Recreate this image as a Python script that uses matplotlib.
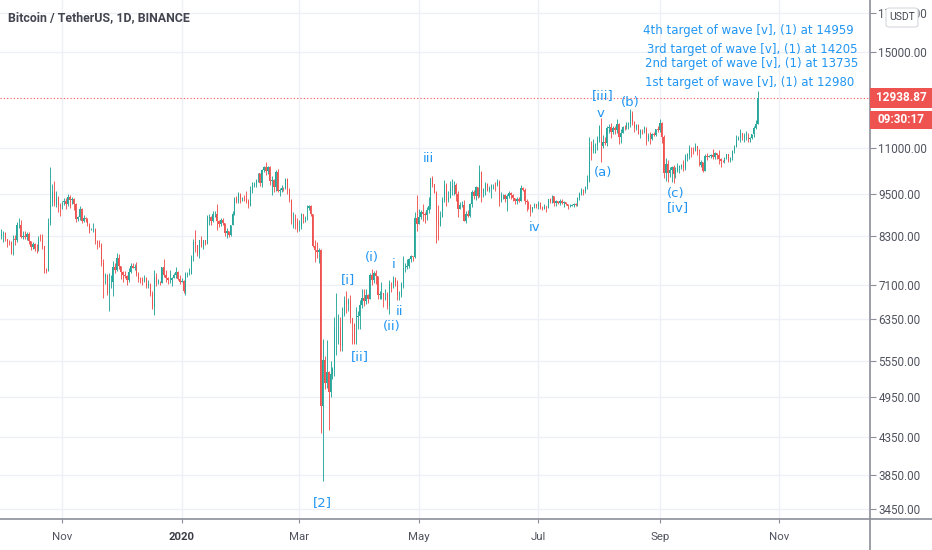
import numpy as np
import datetime as dt
import matplotlib
matplotlib.use("Agg")
import matplotlib.pyplot as plt
import matplotlib.dates as mdates
from matplotlib.patches import Rectangle, FancyBboxPatch
from matplotlib.lines import Line2D

# ---------------- data (BTC/USDT daily, Binance) ----------------
START_DATE = "2019-10-01"
FIRST_OPEN = 8290

close_oct19 = [8340,8380,8230,8150,8140,7860,8210,8190,8590,8590,8260,8300,8280,8360,8160,8000,8090,7960,7950,8230,8210,8030,7470,7420,8660,9250,9550,9210,9420,9160,9150]
high_oct19 = [8490,8420,8400,8230,8200,8170,8320,8330,8670,8780,8750,8420,8430,8400,8400,8170,8130,8120,8090,8300,8340,8340,8040,7480,8800,10370,9800,9900,9580,9430,9240]
low_oct19 = [8210,8150,8170,8010,8060,7830,7800,8060,8140,8520,8250,8230,8210,8200,8090,7930,7960,7900,7850,7920,8160,7960,7370,7360,7420,8600,9130,9140,9120,8970,8850]

close_nov19 = [9250,9300,9200,9400,9320,9340,9200,8770,8810,9040,8720,8800,8760,8630,8460,8490,8500,8170,8120,8080,7610,7280,7330,6900,7120,7160,7520,7430,7740,7540]
high_nov19 = [9290,9380,9380,9500,9480,9400,9370,9220,8860,9130,9070,8890,8830,8800,8660,8520,8650,8520,8190,8180,8110,7700,7360,7350,7370,7320,7650,7620,7860,7840]
low_nov19 = [9060,9170,9060,9150,9080,9200,9030,8690,8700,8750,8660,8670,8680,8560,8390,8450,8400,8090,7950,8000,7540,6790,7120,6870,6520,7020,6850,7360,7410,7470]

close_dec19 = [7400,7310,7300,7200,7390,7530,7500,7520,7340,7220,7200,7190,7250,7070,7110,6880,6610,7280,7150,7190,7140,7510,7320,7250,7200,7200,7250,7310,7390,7220,7170]
high_dec19 = [7540,7420,7410,7320,7480,7600,7620,7580,7640,7400,7270,7270,7310,7280,7210,7140,6950,7440,7380,7220,7190,7520,7700,7440,7270,7440,7270,7360,7520,7420,7320]
low_dec19 = [7220,7160,7250,7080,7150,7380,7480,7450,7290,7170,7130,7100,7150,7030,7030,6850,6560,6430,7070,7120,7100,7130,7270,7150,7120,7140,7070,7280,7260,7200,7120]

close_jan20 = [7180,6950,7340,7350,7350,7760,8150,8050,7820,8190,8020,8180,8110,8810,8820,8720,8900,8910,8700,8630,8730,8660,8390,8430,8330,8600,8900,9390,9290,9500,9350]
high_jan20 = [7250,7210,7400,7390,7490,7800,8210,8460,8060,8200,8290,8190,8200,8880,8900,8850,9000,9000,9200,8750,8790,8800,8660,8520,8440,8610,8990,9420,9440,9570,9530]
low_jan20 = [7150,6920,6870,7280,7330,7350,7650,7880,7780,7730,8000,7960,8060,8080,8600,8600,8670,8820,8470,8530,8580,8600,8300,8240,8270,8300,8590,8880,9230,9220,9230]

close_feb20 = [9380,9340,9290,9180,9620,9760,9800,9900,10160,9850,10270,10350,10240,10360,9900,9930,9700,10180,9600,9610,9690,9670,9970,9660,9310,8790,8790,8690,8530]
high_feb20 = [9400,9470,9600,9340,9730,9860,9870,9950,10160,10140,10300,10400,10520,10390,10380,10050,9980,10250,10300,9690,9760,9700,10000,9990,9670,9340,8960,8900,8800]
low_feb20 = [9300,9280,9230,9080,9150,9530,9720,9700,9860,9730,9700,10200,10080,10140,9760,9460,9550,9590,9550,9440,9560,9580,9640,9500,9260,8620,8520,8500,8410]

close_mar20 = [8530,8920,8760,8760,9070,9150,8900,8030,7930,7890,7940,4800,5580,5170,5360,5030,5330,5410,6190,6190,6190,5830,6470,6740,6680,6740,6370,6250,5880,6400,6410]
high_mar20 = [8750,8940,8900,8840,9170,9170,9180,8900,8180,8150,7990,7960,5970,5650,5950,5380,5550,5450,6390,6900,6460,6400,6600,6840,6960,6790,6860,6370,6270,6600,6530]
low_mar20 = [8420,8490,8660,8670,8740,9010,8850,8000,7630,7740,7600,4410,3780,5080,5100,4450,4950,5250,5290,5670,5860,5740,5730,6420,6480,6530,6270,5860,5870,5860,6150]

close_apr20 = [6640,6800,6740,6870,6780,7330,7200,7370,7300,6860,6890,6910,6860,6860,6620,7120,7100,7260,7130,6840,6850,7140,7480,7510,7540,7700,7780,7760,8780,8620]
high_apr20 = [6750,7000,7000,6990,6880,7360,7460,7420,7430,7300,6950,7170,6910,6990,6930,7200,7150,7300,7270,7210,6950,7160,7770,7620,7700,7730,7800,7790,8950,9460]
low_apr20 = [6160,6590,6630,6680,6690,6770,7100,7130,7120,6770,6780,6780,6600,6760,6560,6460,6930,7030,7060,6750,6750,6820,7020,7400,7460,7500,7640,7660,7740,8420]

close_may20 = [8830,8970,8900,8880,9030,9150,9990,9800,9540,8720,8560,8810,9310,9790,9310,9380,9680,9730,9780,9510,9060,9170,9180,8720,8900,8840,9200,9570,9430,9700,9450]
high_may20 = [9060,9020,9190,8960,9100,9400,9990,10050,9800,9580,9170,8980,9400,9930,9840,9580,9890,9950,9900,9840,9580,9270,9300,9310,8980,9020,9220,9620,9610,9740,9710]
low_may20 = [8620,8760,8700,8650,8740,8940,9050,9700,9520,8120,8200,8580,8810,9260,9130,9250,9380,9480,9480,9280,8830,9060,9120,8700,8640,8810,8830,9110,9340,9330,9380]

close_jun20 = [10200,9520,9660,9800,9620,9670,9760,9780,9770,9880,9280,9470,9470,9340,9430,9520,9460,9380,9300,9360,9290,9690,9630,9290,9250,9160,9010,9110,9190,9140]
high_jun20 = [10430,10230,9690,9880,9850,9740,9800,9800,9880,9980,9940,9550,9490,9490,9490,9590,9550,9490,9390,9400,9420,9790,9700,9680,9350,9300,9200,9120,9230,9200]
low_jun20 = [9420,9270,9400,9460,9590,9570,9380,9640,9580,9730,9130,9250,9350,9250,8980,9370,9340,9290,9200,9200,9260,9280,9580,9210,9000,9050,8850,8950,9080,9090]

close_jul20 = [9230,9090,9060,9130,9080,9340,9250,9430,9240,9290,9240,9300,9240,9250,9200,9130,9150,9170,9210,9160,9390,9540,9610,9550,9710,9930,11030,10910,11100,11110,11350]
high_jul20 = [9300,9260,9130,9190,9140,9360,9370,9470,9450,9310,9300,9340,9350,9280,9270,9210,9190,9200,9220,9230,9420,9560,9680,9640,9730,10100,11400,11250,11350,11180,11460]
low_jul20 = [9060,9040,9030,9050,8950,9070,9230,9240,9150,9150,9200,9180,9200,9100,9160,9050,9120,9140,9120,9140,9150,9320,9470,9480,9520,9650,9880,10600,10850,10820,10950]

close_aug20 = [11800,11070,11230,11190,11740,11760,11600,11750,11680,11880,11400,11570,11790,11770,11860,11910,12290,11960,11750,11870,11520,11680,11650,11750,11330,11460,11320,11530,11470,11710,11650]
high_aug20 = [11860,12120,11480,11420,11800,11900,11920,11800,11800,12070,11940,11700,11820,11850,11970,11950,12480,12400,12020,11890,11890,11690,11720,11830,11780,11550,11590,11550,11600,11720,11800]
low_aug20 = [11230,10520,11000,11100,11080,11550,11360,11500,11530,11570,11150,11170,11550,11670,11690,11700,11790,11840,11600,11680,11500,11370,11520,11570,11120,11250,11160,11290,11430,11460,11600]

close_sep20 = [11920,11390,10170,10470,10170,10250,10370,10130,10220,10340,10390,10440,10330,10680,10790,10950,10940,10930,11080,10920,10420,10530,10240,10740,10690,10730,10770,10690,10840,10780]
high_sep20 = [12070,11950,11480,10670,10580,10360,10400,10440,10350,10480,10430,10470,10580,10800,10840,11100,11050,11040,11180,11080,10990,10580,10540,10790,10820,10770,10800,10990,10860,10850]
low_sep20 = [11580,11200,10010,9900,9880,10020,9880,9830,10010,10200,10170,10300,10210,10250,10570,10630,10700,10790,10890,10780,10390,10370,10190,10220,10600,10680,10650,10640,10640,10630]

close_oct20 = [10620,10570,10550,10670,10790,10600,10670,10920,11050,11300,11380,11540,11420,11430,11500,11320,11360,11500,11750,11910,12938.87]
high_oct20 = [10930,10660,10600,10700,10800,10800,10680,10950,11100,11490,11430,11720,11560,11550,11640,11540,11410,11490,11820,12040,13217]
low_oct20 = [10450,10370,10520,10500,10620,10530,10540,10590,10850,11100,11280,11230,11300,11240,11280,11230,11230,11340,11400,11690,11890]

LAST_PRICE = 12938.87
COUNTDOWN = "09:30:17"

y_ticks = [3450, 3850, 4350, 4950, 5550, 6350, 7100, 8300, 9500, 11000, 15000, 17000]
x_tick_dates = ["2019-11-01", "2020-01-01", "2020-03-01", "2020-05-01", "2020-07-01", "2020-09-01", "2020-11-01"]
x_tick_labels = ["Nov", "2020", "Mar", "May", "Jul", "Sep", "Nov"]

wave_texts = ["[2]", "[i]", "[ii]", "(i)", "(ii)", "i", "ii", "iii", "iv", "[iii]", "v", "(a)", "(b)", "(c)", "[iv]"]
wave_dates = ["2020-03-13", "2020-03-26", "2020-04-01", "2020-04-07", "2020-04-17", "2020-04-18",
              "2020-04-21", "2020-05-06", "2020-06-29", "2020-08-03", "2020-08-02", "2020-08-03",
              "2020-08-17", "2020-09-09", "2020-09-10"]
wave_prices = [3530, 7205, 5626, 7757, 6196, 7584, 6522, 10660, 8541, 13050, 12317, 10192, 12758, 9527, 9079]

target_texts = ["4th target of wave [v], (1) at 14959",
                "3rd target of wave [v], (1) at 14205",
                "2nd target of wave [v], (1) at 13735",
                "1st target of wave [v], (1) at 12980"]
target_dates = ["2020-10-16 08:00", "2020-10-18 08:00", "2020-10-17 20:00", "2020-10-16 20:00"]
target_prices = [16080, 15128, 14462, 13608]

# ---------------- build series ----------------
closes = np.array(close_oct19 + close_nov19 + close_dec19 + close_jan20 + close_feb20 + close_mar20 +
                  close_apr20 + close_may20 + close_jun20 + close_jul20 + close_aug20 + close_sep20 + close_oct20, float)
highs = np.array(high_oct19 + high_nov19 + high_dec19 + high_jan20 + high_feb20 + high_mar20 +
                 high_apr20 + high_may20 + high_jun20 + high_jul20 + high_aug20 + high_sep20 + high_oct20, float)
lows = np.array(low_oct19 + low_nov19 + low_dec19 + low_jan20 + low_feb20 + low_mar20 +
                low_apr20 + low_may20 + low_jun20 + low_jul20 + low_aug20 + low_sep20 + low_oct20, float)
opens = np.concatenate([[FIRST_OPEN], closes[:-1]])
highs = np.maximum(highs, np.maximum(opens, closes))
lows = np.minimum(lows, np.minimum(opens, closes))

start = dt.datetime.strptime(START_DATE, "%Y-%m-%d")
dates = [start + dt.timedelta(days=i) for i in range(len(closes))]
x = mdates.date2num(dates)

UP = "#26a69a"
DOWN = "#ef5350"
BLUE = "#2196f3"
TXT = "#50535e"
AXC = "#8c8f99"

W, H = 932, 550
fig = plt.figure(figsize=(W / 100, H / 100), dpi=100)
fig.patch.set_facecolor("white")
ax = fig.add_axes([0, 31 / H, 870 / W, 519 / H])
ax.set_facecolor("white")

# scales
px_per_day = 1.96
nov1 = mdates.date2num(dt.datetime(2019, 11, 1))
x_left = nov1 - 62 / px_per_day
ax.set_xlim(x_left, x_left + 870 / px_per_day)
ax.set_yscale("log")
ax.set_ylim(3344, 17709)

# grid
ax.set_axisbelow(True)
ax.grid(True, which="major", color="#eef0f5", lw=1.0)

# candles
up = closes >= opens
cols = np.where(up, UP, DOWN)
ax.vlines(x, lows, highs, colors=cols, lw=0.65, zorder=2)
body_lo = np.minimum(opens, closes)
body_h = np.maximum(np.abs(closes - opens), 1.0)
ax.bar(x, body_h, bottom=body_lo, width=0.5, color=cols, lw=0, zorder=3)

# last price line
ax.axhline(LAST_PRICE, color=DOWN, lw=0.8, ls=(0, (1, 2)), zorder=1)

# y axis on right
ax.yaxis.tick_right()
ax.yaxis.set_minor_locator(matplotlib.ticker.NullLocator())
ax.set_yticks(y_ticks)
ax.set_yticklabels([f"{v:.2f}" for v in y_ticks])
ax.tick_params(axis="y", which="major", direction="out", length=4, width=0.8, color=AXC,
               labelsize=8.4, labelcolor=TXT, pad=2)
for lbl in ax.get_yticklabels():
    lbl.set_fontfamily("Roboto")

# x axis
ax.set_xticks(mdates.date2num([dt.datetime.strptime(d, "%Y-%m-%d") for d in x_tick_dates]))
ax.set_xticklabels(x_tick_labels)
ax.tick_params(axis="x", direction="out", length=3, width=0.8, color=AXC, labelsize=8.2,
               labelcolor=TXT, pad=6)
for lbl in ax.get_xticklabels():
    lbl.set_fontfamily("Roboto")
    if lbl.get_text() == "2020":
        lbl.set_fontweight("bold")
        lbl.set_color("#3a3d46")

for s in ["top", "left", "right", "bottom"]:
    ax.spines[s].set_visible(False)

# axis lines (span full figure)
fig.add_artist(Line2D([0, 1], [1 - 519 / H, 1 - 519 / H], transform=fig.transFigure, color=AXC, lw=1.2))
fig.add_artist(Line2D([870 / W, 870 / W], [0, 1], transform=fig.transFigure, color=AXC, lw=1.2))

# wave labels
for t, d, p in zip(wave_texts, wave_dates, wave_prices):
    xd = mdates.date2num(dt.datetime.strptime(d, "%Y-%m-%d"))
    ax.text(xd, p, t, color=BLUE, fontsize=9.5, ha="center", va="center", zorder=5)

for t, d, p in zip(target_texts, target_dates, target_prices):
    xd = mdates.date2num(dt.datetime.strptime(d, "%Y-%m-%d %H:%M"))
    ax.text(xd, p, t, color=BLUE, fontsize=8.5, ha="center", va="center", zorder=5)

# title
fig.text(8 / W, 1 - 18 / H, "Bitcoin / TetherUS, 1D, BINANCE", fontsize=8.9, fontweight="bold",
         family="Roboto", color="#434651", ha="left", va="center")

# price label boxes
ypx = ax.transData.transform((x[-1], LAST_PRICE))[1]
yf = ypx / H
fig.add_artist(Rectangle((870 / W, yf - 10 / H), 62 / W, 20 / H, transform=fig.transFigure,
                         facecolor=DOWN, edgecolor="none", zorder=10))
fig.text(901 / W, yf, f"{LAST_PRICE:.2f}", color="white", fontsize=8.5, fontweight="bold",
         family="Roboto", ha="center", va="center", zorder=11)
fig.add_artist(Rectangle((870 / W, yf - 31 / H), 62 / W, 18 / H, transform=fig.transFigure,
                         facecolor=DOWN, edgecolor="none", zorder=10))
fig.text(901 / W, yf - 22 / H, COUNTDOWN, color="white", fontsize=8.5, fontweight="bold",
         family="Roboto", ha="center", va="center", zorder=11)

# USDT box
fig.add_artist(FancyBboxPatch((886 / W, 1 - 27 / H), 32 / W, 19 / H, transform=fig.transFigure,
                              boxstyle="round,pad=0,rounding_size=0.004", facecolor="white",
                              edgecolor="#d6d8de", lw=0.8, zorder=10))
fig.text(902 / W, 1 - 17.5 / H, "USDT", color="#434651", fontsize=7.5, family="Roboto",
         ha="center", va="center", zorder=11)

fig.savefig("out.png", dpi=100, facecolor="white")
